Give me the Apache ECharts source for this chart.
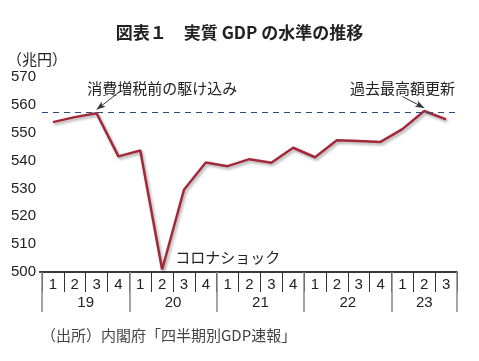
<!DOCTYPE html>
<html><head><meta charset="utf-8">
<script src="https://cdn.jsdelivr.net/npm/echarts@6/dist/echarts.min.js"></script>
<style>html,body{margin:0;padding:0;background:#fff}#c{width:479px;height:361px}</style>
</head><body><div id="c"></div>
<script>
const quarters = ['1','2','3','4','1','2','3','4','1','2','3','4','1','2','3','4','1','2','3'];
const gdp = [553.8, 555.6, 557.0, 541.5, 543.6, 500.9, 529.5, 539.3, 538.0, 540.5, 539.2, 544.6, 541.2, 547.3, 547.0, 546.7, 551.3, 557.8, 554.8];
const yearLabels = ['19','20','21','22','23'];
const yearCenters = [2, 6, 10, 14, 17.5];
const yearBounds = [0, 4, 8, 12, 16, 19];
const preTaxPeak = 557.2;

const FONT = '"Liberation Sans", Arial, "Noto Sans CJK JP", sans-serif';
const JP = '"Noto Sans CJK JP", sans-serif';
const chart = echarts.init(document.getElementById('c'));
chart.setOption({
  animation: false,
  backgroundColor: '#fff',
  title: [
    {text: '図表１　実質 GDP の水準の推移', left: 'center', top: 19,
     textStyle: {fontFamily: JP, fontSize: 17, fontWeight: 'bold', color: '#222'}},
    {text: '（兆円）', left: 2, top: 47,
     textStyle: {fontFamily: JP, fontSize: 15, fontWeight: 'normal', color: '#222'}},
    {text: '（出所）内閣府「四半期別GDP速報」', left: 36, top: 323,
     textStyle: {fontFamily: JP, fontSize: 15, fontWeight: 'normal', color: '#444'}}
  ],
  grid: {left: 42, right: 22, top: 77, bottom: 89},
  xAxis: [
    {type: 'category', data: quarters, boundaryGap: true, position: 'bottom',
     axisLine: {show: true, lineStyle: {color: '#111', width: 1.5}},
     axisTick: {show: true, interval: 0, length: 20, lineStyle: {color: '#333', width: 1}},
     axisLabel: {interval: 0, margin: 5, fontFamily: FONT, fontSize: 15, color: '#222'},
     splitLine: {show: false}},
    {type: 'value', min: 0, max: 19, position: 'bottom',
     axisLine: {show: false},
     axisTick: {show: true, customValues: yearBounds, length: 40, lineStyle: {color: '#888', width: 1.5}},
     axisLabel: {customValues: yearCenters, margin: 23, fontFamily: FONT, fontSize: 15, color: '#222',
       formatter: v => yearLabels[yearCenters.indexOf(v)]},
     splitLine: {show: false}}
  ],
  yAxis: {type: 'value', min: 500, max: 570, interval: 10,
    axisLine: {show: false},
    axisTick: {show: true, customValues: [500], length: 3, lineStyle: {color: '#111', width: 1.5}},
    axisLabel: {margin: 6, fontFamily: FONT, fontSize: 15, color: '#222'},
    splitLine: {show: true, lineStyle: {color: '#a0a0a0', width: 1.5}}},
  series: [{
    type: 'line', data: gdp, xAxisIndex: 0, symbol: 'none',
    lineStyle: {color: '#a3283a', width: 2.5, shadowColor: 'rgba(0,0,0,0.35)', shadowBlur: 3, shadowOffsetX: 1.5, shadowOffsetY: 2},
    markLine: {
      silent: true, symbol: 'none', label: {show: false},
      data: [
        {yAxis: preTaxPeak, lineStyle: {color: '#2b4c7e', type: [6, 5], width: 1.2}},
        [{coord: [3.0, 564.4], symbol: 'none', lineStyle: {color: '#333', type: 'solid', width: 1}},
         {coord: [2.03, 558.3], symbol: 'arrow', symbolSize: [5, 9]}],
        [{coord: [15.6, 563.0], symbol: 'none', lineStyle: {color: '#333', type: 'solid', width: 1}},
         {coord: [16.97, 558.9], symbol: 'arrow', symbolSize: [5, 9]}]
      ]
    },
    markPoint: {
      silent: true, symbol: 'circle', symbolSize: 0,
      label: {show: true, position: 'inside', fontFamily: JP, fontSize: 15, color: '#222'},
      data: [
        {coord: [5.18, 566.1], value: '消費増税前の駆け込み', label: {formatter: '消費増税前の駆け込み'}},
        {coord: [15.84, 566.1], value: '過去最高額更新', label: {formatter: '過去最高額更新'}},
        {coord: [7.92, 505.1], value: 'コロナショック', label: {formatter: 'コロナショック'}}
      ]
    }
  }]
});
</script></body></html>
